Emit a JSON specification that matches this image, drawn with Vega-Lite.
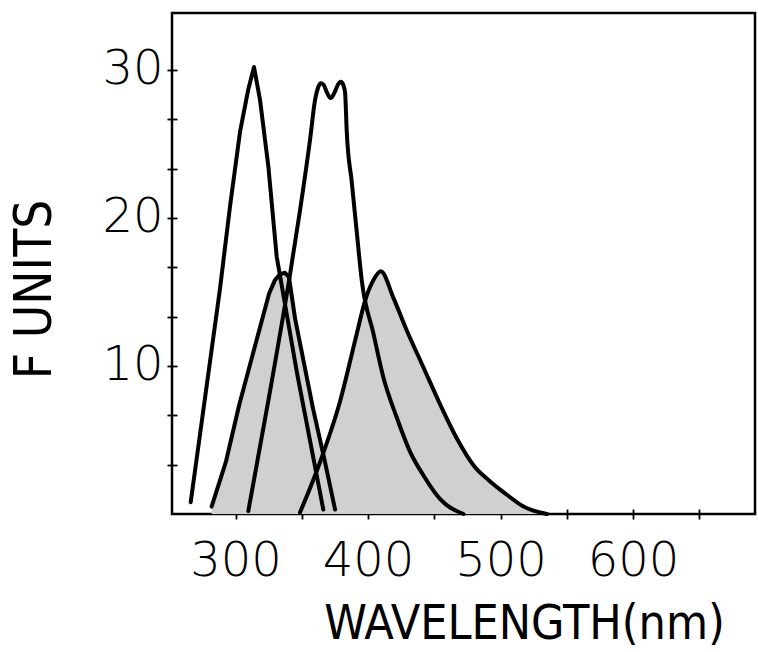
{
  "$schema": "https://vega.github.io/schema/vega-lite/v6.json",
  "width": 583,
  "height": 501,
  "autosize": {"type": "none"},
  "padding": {"left": 172, "top": 13, "right": 3, "bottom": 138},
  "background": "white",
  "config": {
    "view": {"stroke": "black", "strokeWidth": 2.5, "fill": "white"},
    "axis": {"grid": false, "domain": false, "tickColor": "black", "tickWidth": 1.8, "tickSize": 10, "offset": -5, "labelColor": "black", "titleColor": "black", "labelFont": "DejaVu Sans", "titleFont": "DejaVu Sans Condensed", "labelFontWeight": 300, "titleFontWeight": 300}
  },
  "data": {
    "values": [
      {"curve": "A", "nm": 266.1, "f": 0.8},
      {"curve": "A", "nm": 288.2, "f": 15.2},
      {"curve": "A", "nm": 295.8, "f": 20.8},
      {"curve": "A", "nm": 303.3, "f": 25.8},
      {"curve": "A", "nm": 309.6, "f": 28.7},
      {"curve": "A", "nm": 313.9, "f": 30.2},
      {"curve": "A", "nm": 318.4, "f": 28.0},
      {"curve": "A", "nm": 324.7, "f": 23.5},
      {"curve": "A", "nm": 331.0, "f": 17.4},
      {"curve": "A", "nm": 346.4, "f": 9.5},
      {"curve": "A", "nm": 366.2, "f": 0.3},
      {"curve": "B", "nm": 281.9, "f": 0.5},
      {"curve": "B", "nm": 292.6, "f": 3.5},
      {"curve": "B", "nm": 302.8, "f": 7.4},
      {"curve": "B", "nm": 315.1, "f": 11.5},
      {"curve": "B", "nm": 325.3, "f": 14.9},
      {"curve": "B", "nm": 329.7, "f": 15.8},
      {"curve": "B", "nm": 333.5, "f": 16.2},
      {"curve": "B", "nm": 337.3, "f": 16.3},
      {"curve": "B", "nm": 340.3, "f": 16.0},
      {"curve": "B", "nm": 344.9, "f": 13.2},
      {"curve": "B", "nm": 358.5, "f": 7.1},
      {"curve": "B", "nm": 367.5, "f": 3.5},
      {"curve": "B", "nm": 375.1, "f": 0.3},
      {"curve": "C", "nm": 309.6, "f": 0.2},
      {"curve": "C", "nm": 325.6, "f": 8.1},
      {"curve": "C", "nm": 341.1, "f": 16.2},
      {"curve": "C", "nm": 348.6, "f": 20.5},
      {"curve": "C", "nm": 356.2, "f": 25.3},
      {"curve": "C", "nm": 360.0, "f": 28.0},
      {"curve": "C", "nm": 362.2, "f": 28.8},
      {"curve": "C", "nm": 364.3, "f": 29.1},
      {"curve": "C", "nm": 366.5, "f": 29.0},
      {"curve": "C", "nm": 368.8, "f": 28.5},
      {"curve": "C", "nm": 371.8, "f": 28.1},
      {"curve": "C", "nm": 374.8, "f": 28.5},
      {"curve": "C", "nm": 377.2, "f": 29.0},
      {"curve": "C", "nm": 379.4, "f": 29.2},
      {"curve": "C", "nm": 381.2, "f": 29.0},
      {"curve": "C", "nm": 382.6, "f": 28.5},
      {"curve": "C", "nm": 383.9, "f": 25.8},
      {"curve": "C", "nm": 387.7, "f": 22.4},
      {"curve": "C", "nm": 391.5, "f": 19.0},
      {"curve": "C", "nm": 395.2, "f": 15.8},
      {"curve": "C", "nm": 404.0, "f": 12.2},
      {"curve": "C", "nm": 411.6, "f": 9.2},
      {"curve": "C", "nm": 421.7, "f": 6.5},
      {"curve": "C", "nm": 431.7, "f": 4.2},
      {"curve": "C", "nm": 441.8, "f": 2.6},
      {"curve": "C", "nm": 454.4, "f": 1.0},
      {"curve": "C", "nm": 472.0, "f": 0.0},
      {"curve": "D", "nm": 348.6, "f": 0.1},
      {"curve": "D", "nm": 363.7, "f": 3.5},
      {"curve": "D", "nm": 378.8, "f": 7.6},
      {"curve": "D", "nm": 391.5, "f": 12.2},
      {"curve": "D", "nm": 397.7, "f": 14.4},
      {"curve": "D", "nm": 404.0, "f": 15.8},
      {"curve": "D", "nm": 409.6, "f": 16.4},
      {"curve": "D", "nm": 419.1, "f": 14.6},
      {"curve": "D", "nm": 429.2, "f": 12.4},
      {"curve": "D", "nm": 441.8, "f": 9.9},
      {"curve": "D", "nm": 454.4, "f": 7.4},
      {"curve": "D", "nm": 467.0, "f": 5.1},
      {"curve": "D", "nm": 479.5, "f": 3.3},
      {"curve": "D", "nm": 492.1, "f": 2.2},
      {"curve": "D", "nm": 504.8, "f": 1.3},
      {"curve": "D", "nm": 517.3, "f": 0.5},
      {"curve": "D", "nm": 535.0, "f": 0.0}
    ]
  },
  "encoding": {
    "x": {
      "field": "nm", "type": "quantitative",
      "scale": {"domain": [252, 692], "nice": false, "zero": false},
      "axis": {
        "values": [300, 350, 400, 450, 500, 550, 600, 650],
        "labelExpr": "(datum.value % 100 == 0 && datum.value <= 600) ? format(datum.value, 'd') : ''",
        "labelFontSize": 48, "labelBaseline": "alphabetic", "labelPadding": 56, "labelFlush": false, "labelOverlap": false,
        "title": "WAVELENGTH(nm)", "titleFontSize": 48, "titleX": 352, "titleY": 129, "titleAlign": "center", "titleBaseline": "alphabetic", "titleAnchor": null
      }
    },
    "y": {
      "field": "f", "type": "quantitative",
      "scale": {"domain": [0, 33.85], "nice": false, "zero": true},
      "axis": {
        "values": [3.3333, 6.6667, 10, 13.3333, 16.6667, 20, 23.3333, 26.6667, 30],
        "labelExpr": "abs(datum.value - round(datum.value / 10) * 10) < 0.01 ? format(datum.value, 'd') : ''",
        "labelFontSize": 48, "labelBaseline": "middle", "labelPadding": 4, "labelFlush": false, "labelOverlap": false,
        "title": "F UNITS", "titleFontSize": 51, "titleAngle": -90, "titleX": -127, "titleY": 276, "titleAlign": "center", "titleBaseline": "alphabetic", "titleAnchor": null
      }
    }
  },
  "layer": [
    {
      "transform": [{"filter": "datum.curve == 'B'"}],
      "mark": {"type": "area", "color": "#d0d0d0", "opacity": 1, "interpolate": "linear"},
      "encoding": {"y": {"field": "f", "type": "quantitative", "stack": null}}
    },
    {
      "transform": [{"filter": "datum.curve == 'D'"}],
      "mark": {"type": "area", "color": "#d0d0d0", "opacity": 1, "interpolate": "monotone"},
      "encoding": {"y": {"field": "f", "type": "quantitative", "stack": null}}
    },
    {
      "transform": [{"filter": "datum.curve == 'A' || datum.curve == 'B'"}],
      "mark": {"type": "line", "color": "black", "strokeWidth": 4, "interpolate": "linear", "strokeJoin": "round", "strokeCap": "round"},
      "encoding": {"detail": {"field": "curve"}}
    },
    {
      "transform": [{"filter": "datum.curve == 'C' || datum.curve == 'D'"}],
      "mark": {"type": "line", "color": "black", "strokeWidth": 4, "interpolate": "monotone", "strokeJoin": "round", "strokeCap": "round"},
      "encoding": {"detail": {"field": "curve"}}
    }
  ]
}
